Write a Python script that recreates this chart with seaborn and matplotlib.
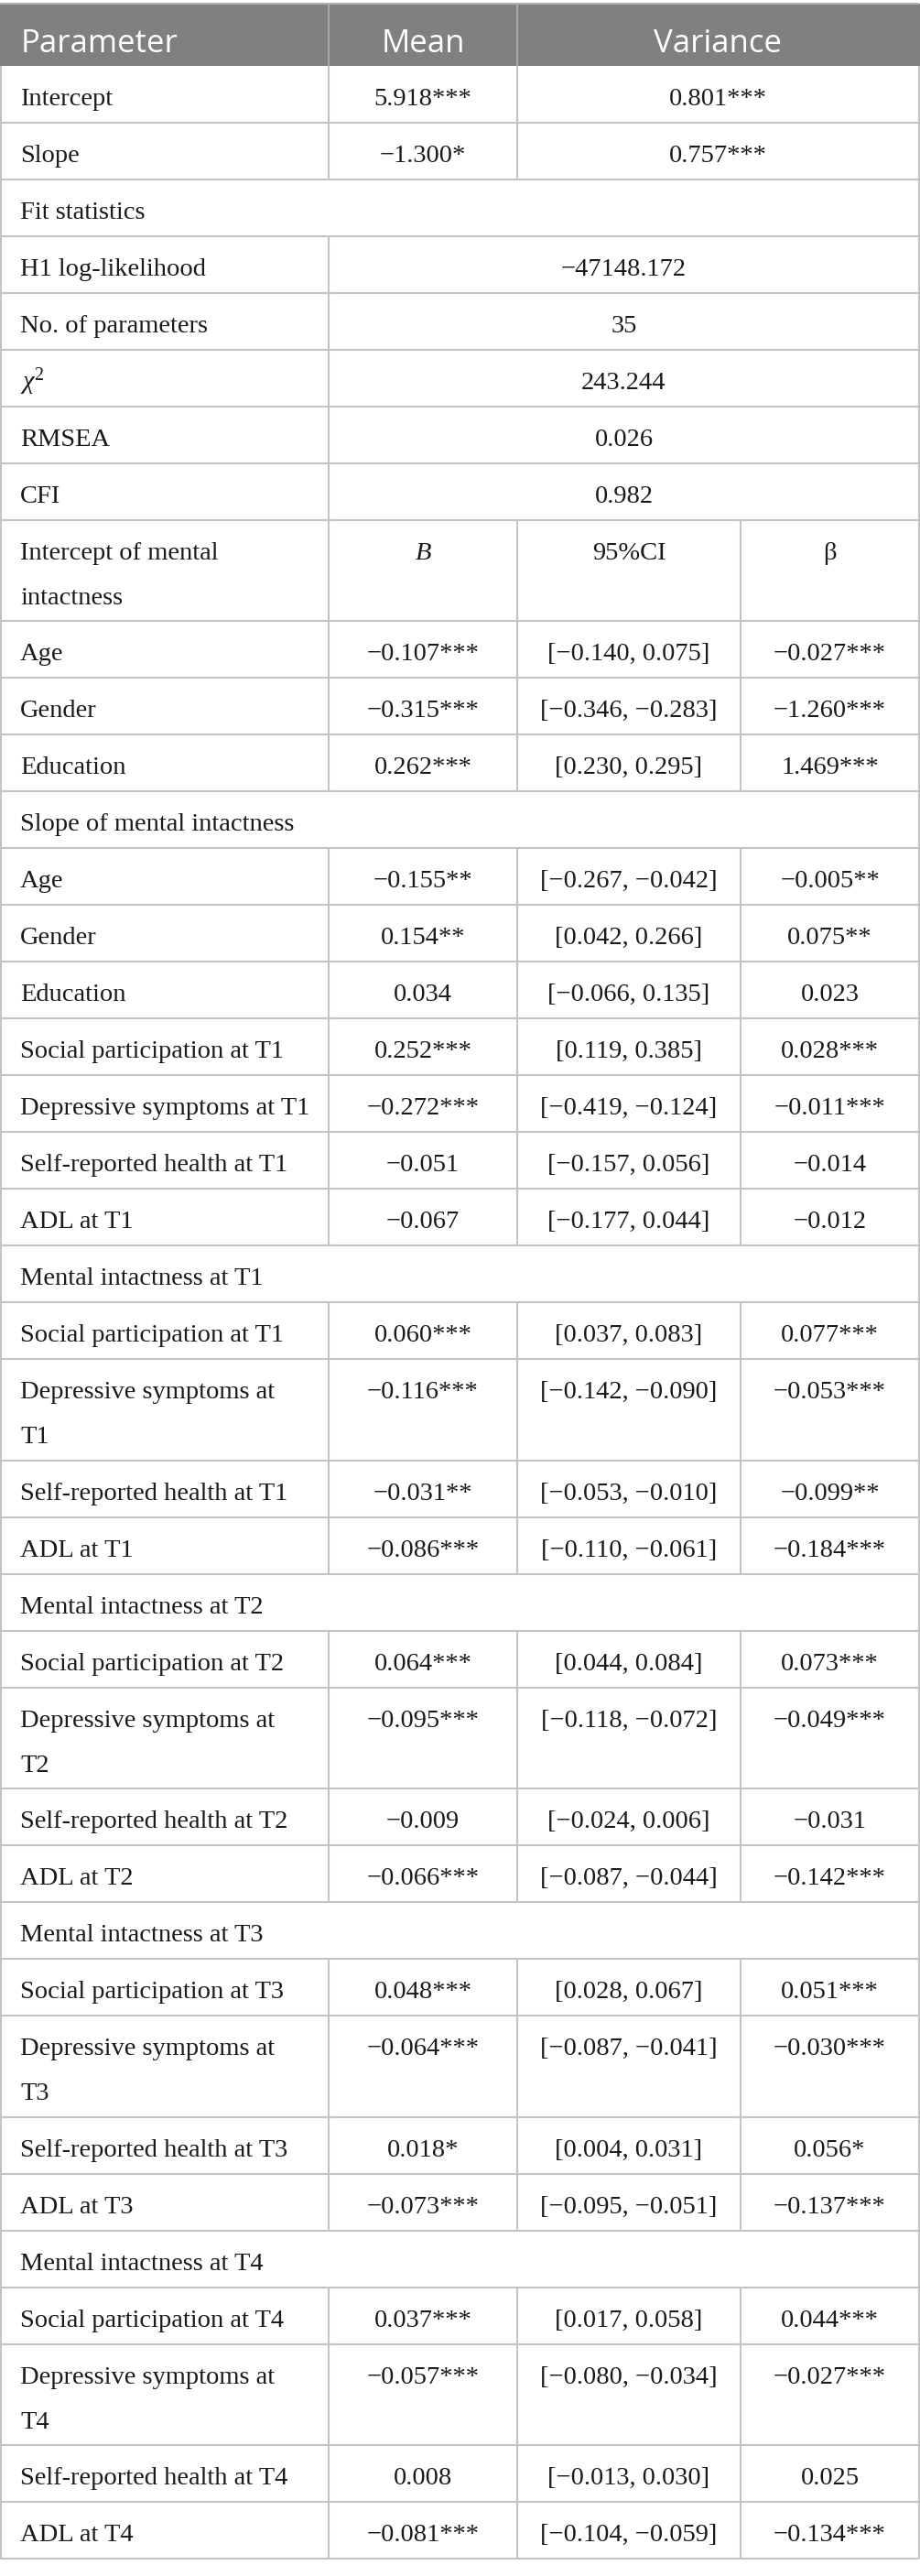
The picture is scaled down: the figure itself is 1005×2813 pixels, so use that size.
import matplotlib.pyplot as plt
import seaborn as sns

# table content
header = ['Parameter', 'Mean', 'Variance']
growth_params = ['Intercept', 'Slope']
growth_mean = ['5.918***', '−1.300*']
growth_var = ['0.801***', '0.757***']

fit_title = 'Fit statistics'
fit_stats = ['H1 log-likelihood', 'No. of parameters', r'$\chi^2$', 'RMSEA', 'CFI']
fit_values = ['−47148.172', '35', '243.244', '0.026', '0.982']

coef_head = ['B', '95%CI', 'β']

int_title = 'Intercept of mental\nintactness'
int_pred = ['Age', 'Gender', 'Education']
int_b = ['−0.107***', '−0.315***', '0.262***']
int_ci = ['[−0.140, 0.075]', '[−0.346, −0.283]', '[0.230, 0.295]']
int_beta = ['−0.027***', '−1.260***', '1.469***']

slope_title = 'Slope of mental intactness'
slope_pred = ['Age', 'Gender', 'Education', 'Social participation at T1',
              'Depressive symptoms at T1', 'Self-reported health at T1', 'ADL at T1']
slope_b = ['−0.155**', '0.154**', '0.034', '0.252***', '−0.272***', '−0.051', '−0.067']
slope_ci = ['[−0.267, −0.042]', '[0.042, 0.266]', '[−0.066, 0.135]', '[0.119, 0.385]',
            '[−0.419, −0.124]', '[−0.157, 0.056]', '[−0.177, 0.044]']
slope_beta = ['−0.005**', '0.075**', '0.023', '0.028***', '−0.011***', '−0.014', '−0.012']

t1_pred = ['Social participation at T1', 'Depressive symptoms at\nT1',
           'Self-reported health at T1', 'ADL at T1']
t1_b = ['0.060***', '−0.116***', '−0.031**', '−0.086***']
t1_ci = ['[0.037, 0.083]', '[−0.142, −0.090]', '[−0.053, −0.010]', '[−0.110, −0.061]']
t1_beta = ['0.077***', '−0.053***', '−0.099**', '−0.184***']

t2_pred = ['Social participation at T2', 'Depressive symptoms at\nT2',
           'Self-reported health at T2', 'ADL at T2']
t2_b = ['0.064***', '−0.095***', '−0.009', '−0.066***']
t2_ci = ['[0.044, 0.084]', '[−0.118, −0.072]', '[−0.024, 0.006]', '[−0.087, −0.044]']
t2_beta = ['0.073***', '−0.049***', '−0.031', '−0.142***']

t3_pred = ['Social participation at T3', 'Depressive symptoms at\nT3',
           'Self-reported health at T3', 'ADL at T3']
t3_b = ['0.048***', '−0.064***', '0.018*', '−0.073***']
t3_ci = ['[0.028, 0.067]', '[−0.087, −0.041]', '[0.004, 0.031]', '[−0.095, −0.051]']
t3_beta = ['0.051***', '−0.030***', '0.056*', '−0.137***']

t4_pred = ['Social participation at T4', 'Depressive symptoms at\nT4',
           'Self-reported health at T4', 'ADL at T4']
t4_b = ['0.037***', '−0.057***', '0.008', '−0.081***']
t4_ci = ['[0.017, 0.058]', '[−0.080, −0.034]', '[−0.013, 0.030]', '[−0.104, −0.059]']
t4_beta = ['0.044***', '−0.027***', '0.025', '−0.134***']

blocks = [
    ('Mental intactness at T1', t1_pred, t1_b, t1_ci, t1_beta),
    ('Mental intactness at T2', t2_pred, t2_b, t2_ci, t2_beta),
    ('Mental intactness at T3', t3_pred, t3_b, t3_ci, t3_beta),
    ('Mental intactness at T4', t4_pred, t4_b, t4_ci, t4_beta),
]

sns.set_theme(style='white')
plt.rcParams['font.family'] = ['Liberation Serif', 'DejaVu Serif']
plt.rcParams['mathtext.fontset'] = 'custom'
plt.rcParams['mathtext.rm'] = 'Liberation Serif'
plt.rcParams['mathtext.it'] = 'Liberation Serif:italic'

W, H = 1005, 2813
TOP, HEAD_H, ROW_H, ROW2_H = 4, 68, 62, 110.4
X = [1, 359, 565, 809, 1004]
PAD = 22
BASE, LINE2 = 43, 49
FS = 20.5
GRID = '#c4c4c4'
TXT = '#1a1a1a'
LW = 1.5

fig = plt.figure(figsize=(W / 100, H / 100), dpi=100)
ax = fig.add_axes([0, 0, 1, 1])
ax.set_xlim(0, W)
ax.set_ylim(H, 0)
ax.axis('off')


def put(x, y, s, ha='center', **kw):
    ax.text(x, y, s, ha=ha, va='baseline', fontsize=FS, color=TXT, **kw)


def row(y, label, cells, seps, italic_cells=False):
    lines = label.split('\n')
    h = ROW2_H if len(lines) > 1 else ROW_H
    for i, ln in enumerate(lines):
        put(X[0] + PAD - 1, y + BASE + i * LINE2, ln, ha='left')
    for (cx, s) in cells:
        style = 'italic' if (italic_cells and s == 'B') else 'normal'
        put(cx, y + BASE, s, style=style)
    ax.hlines(y + h, X[0] - 1, X[-1], color=GRID, lw=LW)
    for sx in seps:
        ax.vlines(sx, y, y + h, color=GRID, lw=LW)
    ax.vlines([X[0], X[-1]], y, y + h, color=GRID, lw=LW)
    return y + h


# header
ax.axhspan(TOP, TOP + HEAD_H, color='#808080', lw=0)
ax.hlines(TOP, X[0] - 1, X[-1], color='#b0b0b0', lw=LW)
ax.vlines([X[1], X[2]], TOP, TOP + HEAD_H, color='#a8a8a8', lw=LW)
hy = TOP + 53
ax.text(X[0] + PAD, hy, header[0], ha='left', va='baseline', fontsize=25,
        family='Open Sans', color='white')
ax.text((X[1] + X[2]) / 2, hy, header[1], ha='center', va='baseline', fontsize=25,
        family='Open Sans', color='white')
ax.text((X[2] + X[4]) / 2, hy, header[2], ha='center', va='baseline', fontsize=25,
        family='Open Sans', color='white')

y = TOP + HEAD_H
c_mean = (X[1] + X[2]) / 2
c_var = (X[2] + X[4]) / 2
c_fit = (X[1] + X[4]) / 2
c_b = (X[1] + X[2]) / 2
c_ci = (X[2] + X[3]) / 2
c_beta = (X[3] + X[4]) / 2

for p, m, v in zip(growth_params, growth_mean, growth_var):
    y = row(y, p, [(c_mean, m), (c_var, v)], [X[1], X[2]])

y = row(y, fit_title, [], [])
for s, v in zip(fit_stats, fit_values):
    y = row(y, s, [(c_fit, v)], [X[1]])

y = row(y, int_title, [(c_b, coef_head[0]), (c_ci, coef_head[1]), (c_beta, coef_head[2])],
        [X[1], X[2], X[3]], italic_cells=True)
for p, b, ci, be in zip(int_pred, int_b, int_ci, int_beta):
    y = row(y, p, [(c_b, b), (c_ci, ci), (c_beta, be)], [X[1], X[2], X[3]])

y = row(y, slope_title, [], [])
for p, b, ci, be in zip(slope_pred, slope_b, slope_ci, slope_beta):
    y = row(y, p, [(c_b, b), (c_ci, ci), (c_beta, be)], [X[1], X[2], X[3]])

for title, preds, bs, cis, betas in blocks:
    y = row(y, title, [], [])
    for p, b, ci, be in zip(preds, bs, cis, betas):
        y = row(y, p, [(c_b, b), (c_ci, ci), (c_beta, be)], [X[1], X[2], X[3]])

fig.savefig('out.png', dpi=100)
